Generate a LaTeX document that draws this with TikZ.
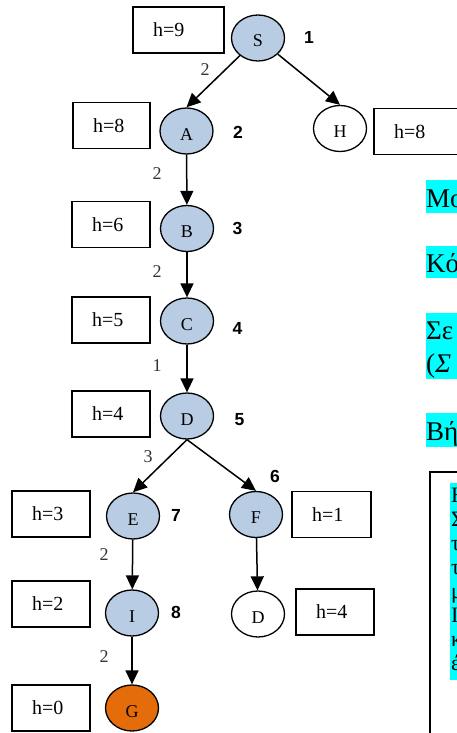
\documentclass[tikz,border=0pt]{standalone}
\usepackage{fontspec}
\setmainfont{Liberation Serif}
\newfontfamily\numfont{Liberation Sans}
\usetikzlibrary{shapes.geometric,arrows.meta}
\definecolor{nodeblue}{HTML}{B8CCE4}
\definecolor{goalorange}{HTML}{E46C0A}
\definecolor{hl}{HTML}{00FFFF}
\tikzset{
  st/.style={ellipse, draw, line width=1.3pt, minimum width=53pt, minimum height=46pt,
    inner sep=0pt, font=\fontsize{18}{18}\selectfont, text height=18pt, text depth=0pt},
  vis/.style={st, fill=nodeblue},
  goal/.style={st, fill=goalorange},
  hbox/.style={rectangle, draw, line width=1.3pt, minimum height=46pt, inner xsep=20pt,
    inner ysep=0pt, align=left, font=\fontsize{20}{24}\selectfont},
  ord/.style={font=\numfont\bfseries\fontsize{17.5}{18}\selectfont, inner sep=0pt},
  cost/.style={font=\fontsize{18}{18}\selectfont, text=black!80, inner sep=0pt},
  arr/.style={line width=1.5pt, -{Triangle[length=14pt,width=13pt]}},
  gk/.style={font=\fontsize{27}{33}\selectfont, inner sep=0pt, anchor=base west},
  gs/.style={font=\fontsize{22}{24}\selectfont, inner sep=0pt, anchor=base west},
}
\begin{document}
\begin{tikzpicture}[x=1pt,y=-1pt]
\useasboundingbox (0,0) rectangle (457,733);
\clip (0,0) rectangle (457,733);
% tree nodes
\node[vis] (S) at (258,38) {S};
\node[vis] (A) at (186.5,131) {A};
\node[st]  (H) at (340,128.5) {H};
\node[vis] (B) at (187,228.5) {B};
\node[vis] (C) at (187,321) {C};
\node[vis] (D) at (187,416) {D};
\node[vis] (E) at (133,516) {E};
\node[vis] (F) at (256,514.5) {F};
\node[vis] (I) at (132,613) {I};
\node[st]  (D2) at (258,614) {D};
\node[goal] (G) at (132,708) {G};
% heuristic boxes
\node[hbox, text width=51pt] (hS) at (178.5,30) {h=9};
\node[hbox, text width=37pt] (hA) at (111.5,125.5) {h=8};
\node[hbox, text width=51pt] (hH) at (419.5,131.5) {h=8};
\node[hbox, text width=38pt] (hB) at (111,224.5) {h=6};
\node[hbox, text width=38pt] (hC) at (111,320) {h=5};
\node[hbox, text width=38pt] (hD) at (111,414) {h=4};
\node[hbox, text width=38pt] (hE) at (51,514) {h=3};
\node[hbox, text width=39pt] (hF) at (331.5,514.5) {h=1};
\node[hbox, text width=38pt] (hI) at (51,604) {h=2};
\node[hbox, text width=38pt] (hD2) at (335,612) {h=4};
\node[hbox, text width=38pt] (hG) at (51,708) {h=0};
% expansion order
\node[ord] (o1) at (309,37.5) {1};
\node[ord] (o2) at (238,132.5) {2};
\node[ord] (o3) at (237.5,228) {3};
\node[ord] (o4) at (237.5,328) {4};
\node[ord] (o5) at (239.5,420) {5};
\node[ord] (o6) at (275,476) {6};
\node[ord] (o7) at (176,515) {7};
\node[ord] (o8) at (176,612) {8};
% edges
\draw[arr] (S) -- (A.north);
\draw[arr] (S) -- (H.north);
\draw[arr] (A) -- (B);
\draw[arr] (B) -- (C);
\draw[arr] (C) -- (D);
\draw[arr] (D.south) -- (E.north);
\draw[arr] (D.south) -- (F.north);
\draw[arr] (E) -- (I);
\draw[arr] (I) -- (G);
\draw[arr] (F) -- (D2);
% edge costs
\node[cost] (c1) at (205,70) {2};
\node[cost] (c2) at (157,174) {2};
\node[cost] (c3) at (157,272) {2};
\node[cost] (c4) at (157,366) {1};
\node[cost] (c5) at (148,457) {3};
\node[cost] (c6) at (104,555) {2};
\node[cost] (c7) at (104,657) {2};
% right-hand text (cut off)
\fill[hl] (426,180) rectangle (460,213);
\node[gk] (t1) at (426,207) {Μο};
\fill[hl] (426,246) rectangle (460,278);
\node[gk] (t2) at (426,272) {Κό};
\fill[hl] (426,313) rectangle (460,379);
\node[gk] (t3) at (426,339) {Σε};
\node[gk] (t4) at (426,372) {(\textit{Σ}};
\fill[hl] (426,413) rectangle (460,447);
\node[gk] (t5) at (426,440) {Βή};
% framed box bottom right
\draw[line width=1.5pt] (462,472) -- (430,472) -- (430,740);
\fill[hl] (450,483) rectangle (460,680);
\node[gs] (b1) at (451,502) {Η};
\node[gs] (b2) at (451,526) {Σ};
\node[gs] (b3) at (451,550) {τ};
\node[gs] (b4) at (451,574) {τ};
\node[gs] (b5) at (451,598) {μ};
\node[gs] (b6) at (451,622) {Ι};
\node[gs] (b7) at (451,646) {κ};
\node[gs] (b8) at (451,670) {έ};
\end{tikzpicture}
\end{document}
